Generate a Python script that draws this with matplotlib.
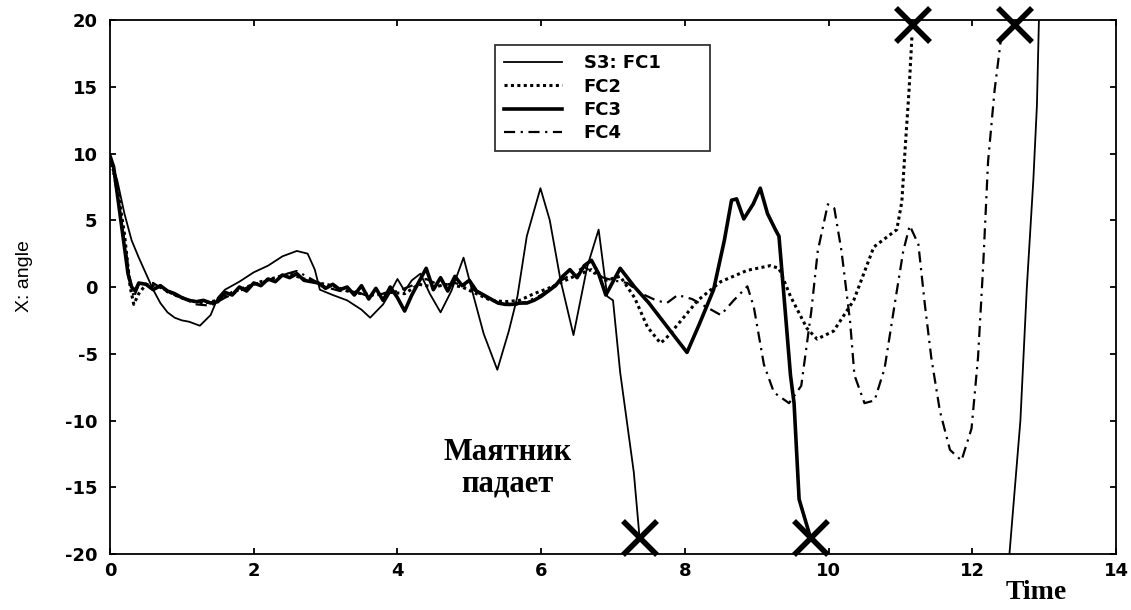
import numpy as np
import matplotlib
matplotlib.use("Agg")
import matplotlib.pyplot as plt

plt.rcParams["axes.unicode_minus"] = False

# ---------------- data ----------------
fc1_t = [0.0, 0.1, 0.2, 0.3, 0.4, 0.5, 0.6, 0.7, 0.8, 0.9, 1.0, 1.1, 1.25, 1.4, 1.5,
         1.6, 1.8, 2.0, 2.2, 2.4, 2.6, 2.75, 2.85, 2.92, 3.1, 3.3, 3.5, 3.62, 3.8,
         3.9, 4.0, 4.1, 4.2, 4.32, 4.45, 4.6, 4.75, 4.92, 5.05, 5.2, 5.39, 5.55,
         5.67, 5.8, 5.99, 6.12, 6.27, 6.45, 6.64, 6.8, 6.92, 7.0, 7.1, 7.29, 7.37,
         np.nan,
         12.51, 12.67, 12.76, 12.85, 12.9, 12.93]
fc1_y = [9.8, 8.0, 5.5, 3.5, 2.2, 1.0, -0.2, -1.2, -1.9, -2.3, -2.5, -2.6, -2.9, -2.1, -0.8,
         -0.2, 0.4, 1.1, 1.6, 2.3, 2.7, 2.5, 1.3, -0.2, -0.6, -1.0, -1.7, -2.3, -1.3,
         -0.4, 0.6, -0.3, 0.5, 1.0, -0.5, -1.9, -0.3, 2.2, -0.5, -3.5, -6.2, -3.3,
         -0.7, 3.8, 7.4, 5.0, 0.5, -3.6, 1.5, 4.3, -0.7, -1.0, -6.4, -13.9, -18.8,
         np.nan,
         -20.5, -10.0, 0.0, 8.0, 13.6, 20.5]

fc2_t = [0.0, 0.1, 0.2, 0.28, 0.33, 0.4, 0.5, 0.7, 0.9, 1.1, 1.3, 1.5, 1.7, 1.9, 2.1,
         2.3, 2.5, 2.7, 2.9, 3.1, 3.3, 3.5, 3.7, 3.9, 4.1, 4.3, 4.5, 4.7, 4.9, 5.1,
         5.3, 5.5, 5.7, 5.9, 6.1, 6.3, 6.5, 6.7, 6.9, 7.1, 7.3, 7.48, 7.66, 7.73,
         7.95, 8.18, 8.5, 8.87, 9.19, 9.31, 9.47, 9.7, 9.84, 10.07, 10.35, 10.63,
         10.95, 11.02, 11.07, 11.12, 11.16]
fc2_y = [9.8, 7.5, 4.0, 0.0, -1.3, -0.5, 0.2, 0.0, -0.6, -1.0, -1.2, -1.0, -0.4, 0.0, 0.4,
         0.7, 1.0, 0.6, 0.3, 0.1, -0.3, -0.5, -0.6, -0.4, -0.5, 0.2, 0.0, 0.2, 0.0, -0.5,
         -1.0, -1.1, -1.0, -0.5, -0.1, 0.4, 0.9, 1.3, 0.5, 0.8, -0.8, -3.0, -4.2, -3.9,
         -2.5, -1.0, 0.4, 1.25, 1.6, 1.4, -0.7, -3.1, -3.9, -3.3, -1.0, 3.0,
         4.3, 6.4, 10.7, 14.7, 18.7]

fc3_t = [0.0, 0.05, 0.1, 0.15, 0.2, 0.25, 0.3, 0.35, 0.4, 0.5, 0.6, 0.7, 0.8, 0.9, 1.0,
         1.1, 1.2, 1.3, 1.4, 1.5, 1.6, 1.7, 1.8, 1.9, 2.0, 2.1, 2.2, 2.3, 2.4, 2.5,
         2.6, 2.7, 2.8, 2.9, 3.0, 3.1, 3.2, 3.3, 3.4, 3.5, 3.6, 3.7, 3.8, 3.9, 4.0,
         4.1, 4.2, 4.3, 4.4, 4.5, 4.6, 4.7, 4.8, 4.9, 5.0, 5.1, 5.2, 5.3, 5.4, 5.5,
         5.6, 5.7, 5.8, 5.9, 6.0, 6.1, 6.2, 6.3, 6.4, 6.5, 6.6, 6.7, 6.8, 6.9, 7.0,
         7.1, 7.2, 7.3, 7.5, 7.7, 7.9, 8.03, 8.2, 8.4, 8.55, 8.65, 8.72, 8.82, 8.95,
         9.05, 9.15, 9.26, 9.31, 9.4, 9.47, 9.52, 9.59, 9.75]
fc3_y = [9.8, 9.0, 7.0, 5.0, 3.0, 1.0, 0.0, -0.3, 0.3, 0.2, -0.2, 0.1, -0.3, -0.5, -0.8,
         -1.0, -1.1, -1.0, -1.2, -1.1, -0.4, -0.6, 0.0, -0.3, 0.3, 0.1, 0.6, 0.4, 0.9, 0.7,
         1.0, 0.5, 0.4, 0.3, -0.1, 0.2, -0.2, 0.0, -0.6, 0.1, -0.9, -0.1, -1.0, 0.0, -0.8,
         -1.8, -0.6, 0.4, 1.4, -0.2, 0.7, -0.3, 0.8, 0.1, 0.5, -0.3, -0.6, -0.9, -1.2, -1.3,
         -1.3, -1.2, -1.2, -1.0, -0.7, -0.3, 0.1, 0.8, 1.3, 0.7, 1.6, 2.0, 1.0, -0.6, 0.4,
         1.4, 0.7, 0.0, -1.2, -2.6, -4.0, -4.9, -2.8, -0.2, 3.5, 6.5, 6.6, 5.1, 6.2,
         7.4, 5.5, 4.3, 3.8, -2.0, -6.6, -8.7, -15.9, -18.8]

fc4_t = [0.0, 0.1, 0.2, 0.28, 0.33, 0.4, 0.6, 0.8, 1.0, 1.2, 1.4, 1.6, 1.8, 2.0, 2.2,
         2.4, 2.6, 2.8, 3.0, 3.2, 3.4, 3.6, 3.8, 4.0, 4.2, 4.4, 4.6, 4.8, 5.0, 5.2,
         5.4, 5.6, 5.8, 6.0, 6.2, 6.4, 6.6, 6.8, 7.0, 7.2, 7.4, 7.6, 7.75, 7.9, 8.1,
         8.3, 8.5, 8.68, 8.87, 8.96, 9.1, 9.24, 9.45, 9.62, 9.76, 9.85, 9.99, 10.08,
         10.18, 10.3, 10.36, 10.5, 10.64, 10.78, 10.92, 11.04, 11.13, 11.25, 11.34,
         11.43, 11.55, 11.69, 11.85, 11.99, 12.08, 12.15, 12.22, 12.31, 12.4]
fc4_y = [9.8, 7.0, 3.5, 0.5, -0.8, 0.2, 0.3, -0.4, -0.8, -1.3, -1.4, -0.8, -0.3, 0.2, 0.5,
         0.9, 1.2, 0.6, 0.0, -0.3, -0.3, -0.7, -0.5, -0.3, 0.1, 0.6, 0.1, 0.3, 0.0, -0.7,
         -1.2, -1.4, -1.1, -0.6, 0.2, 0.9, 1.5, 0.8, 0.5, 0.3, -0.5, -1.0, -1.2, -0.6, -0.9,
         -1.5, -2.1, -1.0, 0.05, -1.5, -5.8, -7.9, -8.7, -7.4, -1.8, 2.7, 6.2, 5.9,
         2.7, -2.6, -6.6, -8.7, -8.5, -6.1, -1.3, 2.7, 4.6, 3.2, -1.3,
         -5.3, -9.3, -12.2, -13.0, -10.6, -5.3, 1.4, 9.4, 14.7, 18.6]

fall_t = [7.37, 9.75, 11.17, 12.6]
fall_y = [-18.8, -18.8, 19.6, 19.6]

labels = ["S3: FC1", "FC2", "FC3", "FC4"]
x_ticks = [0, 2, 4, 6, 8, 10, 12, 14]
y_ticks = [-20, -15, -10, -5, 0, 5, 10, 15, 20]

# ---------------- figure ----------------
fig = plt.figure(figsize=(11.31, 6.10), dpi=100)
ax = fig.add_axes([0.0973, 0.0918, 0.8894, 0.8754])

ax.plot(fc1_t, fc1_y, color="black", lw=1.3, ls="-", label=labels[0])
ax.plot(fc2_t, fc2_y, color="black", lw=2.2, ls=(0, (1, 1.1)), label=labels[1])
ax.plot(fc3_t, fc3_y, color="black", lw=2.6, ls="-", label=labels[2])
ax.plot(fc4_t, fc4_y, color="black", lw=1.6, ls=(0, (5, 2.5, 1, 2.5)), label=labels[3])

ax.plot(fall_t, fall_y, ls="none", marker="x", ms=25, mew=4, color="black",
        clip_on=False, zorder=5)

ax.set_xlim(0, 14)
ax.set_ylim(-20, 20)
ax.set_xticks(x_ticks)
ax.set_yticks(y_ticks)

for s in ax.spines.values():
    s.set_linewidth(1.3)
ax.tick_params(direction="in", length=4, width=1.3, top=True, right=True,
               labelsize=13)
ax.tick_params(axis="y", pad=9)
ax.tick_params(axis="x", pad=6)
for lab in ax.get_xticklabels() + ax.get_yticklabels():
    lab.set_fontweight("bold")
    lab.set_family("DejaVu Sans")

ax.set_ylabel("X: angle", fontsize=14,
              family=["Liberation Sans Narrow", "Liberation Sans", "DejaVu Sans"])
ax.yaxis.set_label_coords(-0.0765, 0.52)

ax.text(0.921, -0.073, "Time", transform=ax.transAxes, ha="center", va="center",
        fontsize=20, fontweight="bold", family=["Liberation Serif", "DejaVu Serif"])

ax.text(5.53, -13.6, "Маятник\nпадает", ha="center", va="center",
        fontsize=22, fontweight="bold", linespacing=1.1,
        family=["Liberation Serif", "DejaVu Serif"])

leg = ax.legend(loc="upper left", bbox_to_anchor=(0.383, 0.762, 0.213, 0.191),
                mode="expand", borderaxespad=0, frameon=True,
                fancybox=False, edgecolor="black", handlelength=3.2,
                handletextpad=1.2, labelspacing=0.3, borderpad=0.5,
                prop={"family": "DejaVu Sans", "weight": "bold", "size": 13})
leg.get_frame().set_linewidth(1.3)

fig.savefig("out.png", dpi=100, facecolor="white")
